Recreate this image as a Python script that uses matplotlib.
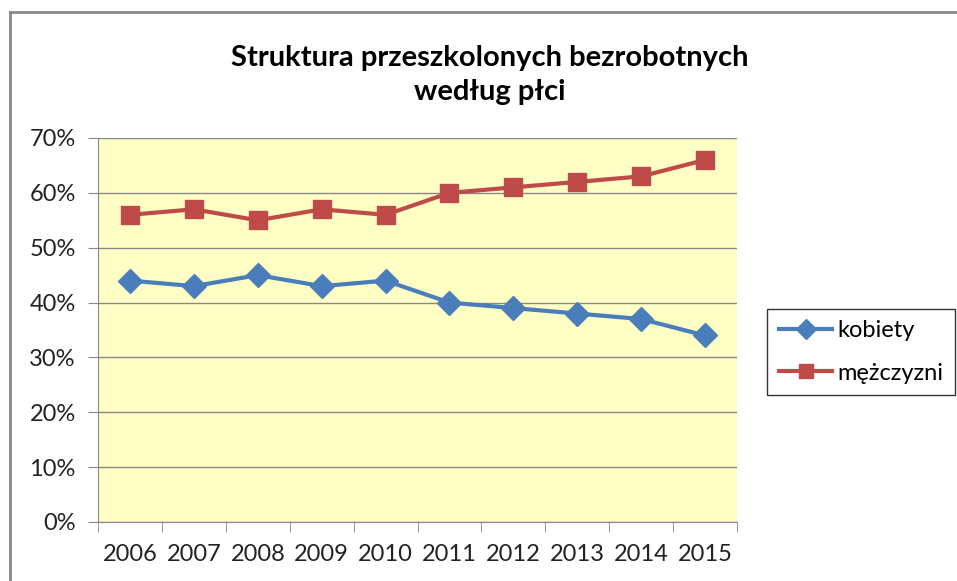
import matplotlib.pyplot as plt
import numpy as np
from matplotlib.lines import Line2D

# Dane
lata = ['2006', '2007', '2008', '2009', '2010', '2011', '2012', '2013', '2014', '2015']
kobiety = [44, 43, 45, 43, 44, 40, 39, 38, 37, 34]
mezczyzni = [56, 57, 55, 57, 56, 60, 61, 62, 63, 66]
y_ticks = [0, 10, 20, 30, 40, 50, 60, 70]

plt.rcParams['font.family'] = ['Lato', 'DejaVu Sans']

niebieski = '#4A7EBB'
czerwony = '#BE4B48'
szary = '#888888'

fig = plt.figure(figsize=(9.57, 5.81), dpi=100)
ax = fig.add_axes([98 / 957, 1 - 522 / 581, (737 - 98) / 957, (522 - 138) / 581])
ax.set_facecolor('#FFFFC5')

x = np.arange(len(lata))
ax.plot(x, kobiety, color=niebieski, lw=3, marker='D', markersize=12, label='kobiety')
ax.plot(x, mezczyzni, color=czerwony, lw=3, marker='s', markersize=13, label='mężczyzni')

ax.set_xlim(-0.5, len(lata) - 0.5)
ax.set_ylim(0, 70)
ax.set_yticks(y_ticks)
ax.set_yticklabels([f'{v}%' for v in y_ticks], fontsize=17, color='#222222')
ax.set_xticks(x)
ax.set_xticklabels(lata, fontsize=17, color='#222222')
ax.tick_params(axis='x', which='major', length=0, pad=16)
ax.set_xticks(np.arange(-0.5, len(lata)), minor=True)
ax.tick_params(axis='x', which='minor', length=7, color=szary, direction='out')
ax.tick_params(axis='y', length=7, color=szary, pad=9)
ax.grid(axis='y', color=szary, lw=1)
ax.set_axisbelow(True)
for s in ['top', 'right']:
    ax.spines[s].set_visible(False)
for s in ['left', 'bottom']:
    ax.spines[s].set_color(szary)

fig.text(490 / 957, 1 - 75 / 581, 'Struktura przeszkolonych bezrobotnych\nwedług płci',
         ha='center', va='center', fontsize=21, fontweight='bold', linespacing=1.35)

# Legenda
uchwyty = [Line2D([], [], color=niebieski, lw=3, marker='D', markersize=10),
           Line2D([], [], color=czerwony, lw=3, marker='s', markersize=10)]
leg = fig.legend(uchwyty, ['kobiety', 'mężczyzni'], loc='center',
                 bbox_to_anchor=(861 / 957, 1 - 352 / 581), fontsize=17,
                 frameon=True, fancybox=False, edgecolor='black',
                 handlelength=2.25, handletextpad=0.2, labelspacing=0.9,
                 borderpad=0.5, borderaxespad=0)
leg.get_frame().set_linewidth(1)

# Ramka wykresu
fig.add_artist(Line2D([10 / 957, 10 / 957], [0, 1 - 12 / 581], color=szary, lw=2))
fig.add_artist(Line2D([10 / 957, 1], [1 - 12 / 581, 1 - 12 / 581], color=szary, lw=2))

fig.savefig('out.png', dpi=100)
